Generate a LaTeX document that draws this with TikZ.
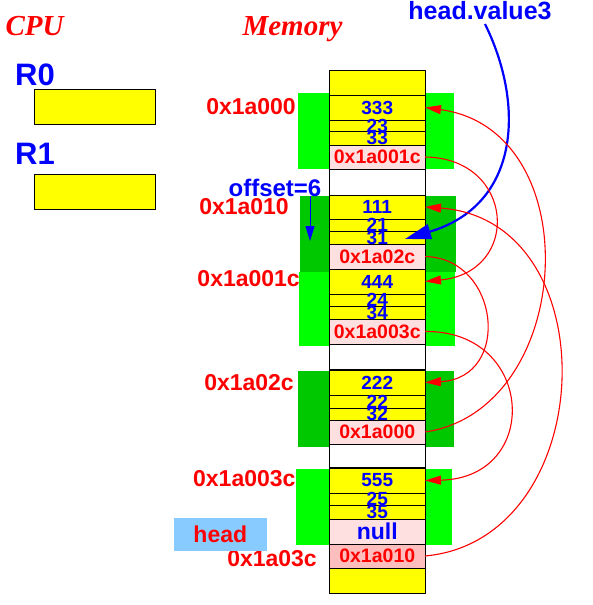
\documentclass[tikz,border=0pt]{standalone}
\usepackage{fontspec}
\setmainfont{Liberation Sans}
\newfontfamily\titlefont{Liberation Serif}
\usetikzlibrary{arrows.meta}

\definecolor{memyellow}{RGB}{255,255,0}
\definecolor{mempink}{RGB}{255,224,224}
\definecolor{memrose}{RGB}{255,190,190}
\definecolor{litegreen}{RGB}{0,255,0}
\definecolor{darkgreen}{RGB}{0,200,0}
\definecolor{headblue}{RGB}{136,204,255}

\tikzset{
	cell/.style={draw=black, line width=0.8pt, minimum width=95.5pt, inner sep=0pt, outer sep=0pt},
	num/.style={text=blue, font=\fontsize{19}{19}\selectfont\bfseries, inner sep=0pt},
	ptr/.style={text=red, font=\fontsize{19.5}{19.5}\selectfont\bfseries, inner sep=0pt},
	addr/.style={text=red, font=\fontsize{23}{23}\selectfont\bfseries, inner sep=0pt, anchor=east},
	link/.style={red, line width=1.1pt, -{Triangle[length=16pt,width=9pt]}},
}

\begin{document}
\begin{tikzpicture}[x=1pt,y=-1pt]
	\useasboundingbox (0,0) rectangle (592,605);

	% titles and registers
	\node[anchor=base, inner sep=0pt, text=red, font=\titlefont\bfseries\itshape\fontsize{29}{29}\selectfont] (cpu) at (34.5,35) {CPU};
	\node[anchor=base, inner sep=0pt, text=red, font=\titlefont\bfseries\itshape\fontsize{29}{29}\selectfont] (mem) at (292.5,35) {Memory};

	\node[anchor=base west, inner sep=0pt, text=blue, font=\fontsize{31}{31}\selectfont\bfseries] (r0) at (15,85) {R0};
	\node[anchor=base west, inner sep=0pt, text=blue, font=\fontsize{31}{31}\selectfont\bfseries] (r1) at (15,164) {R1};
	\node[draw, fill=memyellow, line width=0.8pt, minimum width=121.4pt, minimum height=35pt] (r0box) at (95,106.8) {};
	\node[draw, fill=memyellow, line width=0.8pt, minimum width=121.4pt, minimum height=35pt] (r1box) at (95,191.7) {};

	% green blocks behind the list cells
	\fill[litegreen] (298,93) rectangle (454,169);
	\fill[darkgreen] (300,196) rectangle (455.7,272);
	\fill[litegreen] (299,272) rectangle (455,346);
	\fill[darkgreen] (298,371) rectangle (454,447);
	\fill[litegreen] (296,469) rectangle (452,545);

	% memory column
	\foreach \n/\t/\b/\f in {
		e0/70/95/memyellow, v333/95/120/memyellow, v23/120/131/memyellow, v33/131/145/memyellow,
		p1c/145/169/mempink, w1/169/195/white,
		v111/195/219/memyellow, v21/219/231/memyellow, v31/231/244/memyellow, p2c/244/269/mempink,
		v444/269/294/memyellow, v24/294/306/memyellow, v34/306/319/memyellow, p3c/319/344/mempink,
		w2/344/370/white,
		v222/370/395/memyellow, v22/395/408/memyellow, v32/408/420/memyellow, p00/420/444/mempink,
		w3/444/468/white,
		v555/468/493/memyellow, v25/493/505/memyellow, v35/505/519/memyellow,
		pnull/519/544/mempink, p10/544/568/memrose, e1/568/593/memyellow}
		\node[cell, fill=\f, minimum height={\b-\t}] (\n) at (377.25,{(\t+\b)/2}) {};

	\draw[line width=1.6pt] (v222.north west) -- (v222.north east);
	\draw[line width=1.6pt] (v555.north west) -- (v555.north east);

	% cell contents
	\node[num] at (v333) {333};
	\node[num] at (v23) {23};
	\node[num] at (v33) {33};
	\node[ptr] at (p1c) {0x1a001c};
	\node[num] at (v111) {111};
	\node[num] at (v21) {21};
	\node[num] at (v31) {31};
	\node[ptr] at (p2c) {0x1a02c};
	\node[num] at (v444) {444};
	\node[num] at (v24) {24};
	\node[num] at (v34) {34};
	\node[ptr] at (p3c) {0x1a003c};
	\node[num] at (v222) {222};
	\node[num] at (v22) {22};
	\node[num] at (v32) {32};
	\node[ptr] at (p00) {0x1a000};
	\node[num] at (v555) {555};
	\node[num] at (v25) {25};
	\node[num] at (v35) {35};
	\node[num, font=\fontsize{23}{23}\selectfont\bfseries] at (pnull) {null};
	\node[ptr] at (p10) {0x1a010};

	% addresses
	\node[addr] (a000) at (296,106.7) {0x1a000};
	\node[addr] (a010) at (289,206.7) {0x1a010};
	\node[addr] (a01c) at (300,279) {0x1a001c};
	\node[addr] (a02c) at (294,383) {0x1a02c};
	\node[addr] (a03c) at (295.7,478.3) {0x1a003c};
	\node[addr] (ahead) at (317,558.7) {0x1a03c};

	\node[fill=headblue, text=red, font=\fontsize{23}{23}\selectfont\bfseries, minimum width=92.7pt, minimum height=32.4pt] (head) at (220.3,534.5) {head};

	% offset
	\node[text=blue, font=\fontsize{24}{24}\selectfont\bfseries, inner sep=0pt] (offset) at (275,187.7) {offset=6};
	\coordinate (offtop) at (310,196);
	\coordinate (offtip) at (310,241);
	\draw[blue, line width=0.8pt, -{Triangle[length=15pt,width=9pt]}] (offtop) -- (offtip);

	% head.value3
	\node[text=blue, font=\fontsize{25}{25}\selectfont\bfseries, inner sep=0pt] (hval) at (480,11) {head.value3};
	\coordinate (hvtail) at (485,24);
	\coordinate (hvtip) at (405,239);
	\draw[blue, line width=2.2pt, -{Triangle[length=26pt,width=15pt]}] (hvtail) .. controls (525,105) and (520,205) .. (hvtip);

	% next pointers
	\draw[link] (p1c.east) .. controls (515,158) and (522,272) .. (v444.east);
	\draw[link] (p2c.east) .. controls (500,258) and (512,378) .. (v222.east);
	\draw[link] (p3c.east) .. controls (535,330) and (542,478) .. (v555.east);
	\draw[link] (p00.east) .. controls (575,410) and (590,130) .. (v333.east);
	\draw[link] (p10.east) .. controls (600,540) and (610,220) .. (v111.east);

\end{tikzpicture}
\end{document}
